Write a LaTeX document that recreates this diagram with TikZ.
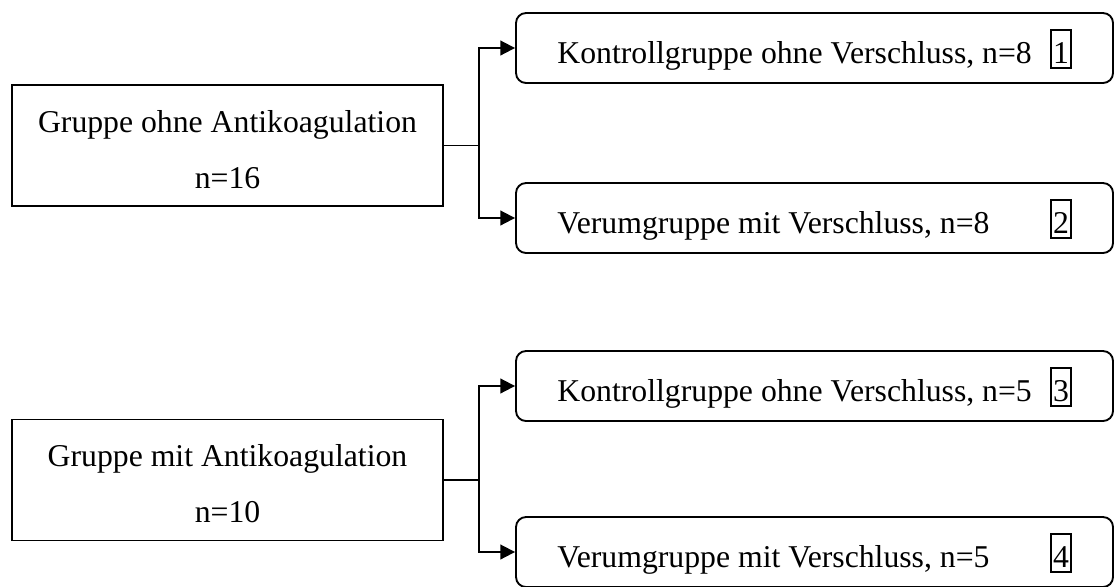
\documentclass[tikz,border=0pt]{standalone}
\usepackage{fontspec}
\setmainfont{Liberation Serif}
\usetikzlibrary{arrows.meta}

\newcommand{\numbox}[1]{{\setlength{\fboxsep}{0pt}\setlength{\fboxrule}{1.2pt}\fbox{\rule[-3pt]{0pt}{27pt}\hspace{0.8pt}#1\hspace{0.8pt}}}}

\begin{document}
\begin{tikzpicture}[x=0.75pt, y=-0.75pt,
    groupbox/.style={draw, line width=1.4pt, inner sep=0pt, minimum width=323.25pt,
        text height=77.25pt, text depth=13.5pt, align=center, font=\fontsize{23.8}{42}\selectfont},
    subbox/.style={draw, line width=1.4pt, rounded corners=7.5pt, inner sep=0pt, minimum width=447.75pt,
        text height=37.5pt, text depth=15pt, font=\fontsize{23.8}{28}\selectfont},
    split/.style={line width=1.4pt},
    splitarrow/.style={line width=1.4pt, -{Triangle[length=11pt, width=11pt]}}]
    \useasboundingbox (0,0) rectangle (1114,586);

    % gruppen links
    \node[groupbox] (grpOhne) at (227.5,145.5) {Gruppe ohne Antikoagulation\\n=16};
    \node[groupbox] (grpMit) at (227.5,480) {Gruppe mit Antikoagulation\\n=10};

    % untergruppen rechts
    \node[subbox] (kontrolle1) at (814.5,48) {\makebox[369.75pt][l]{Kontrollgruppe ohne Verschluss, n=8}\numbox{1}};
    \node[subbox] (verum1) at (814.5,218) {\makebox[369.75pt][l]{Verumgruppe mit Verschluss, n=8}\numbox{2}};
    \node[subbox] (kontrolle2) at (814.5,386) {\makebox[369.75pt][l]{Kontrollgruppe ohne Verschluss, n=5}\numbox{3}};
    \node[subbox] (verum2) at (814.5,552) {\makebox[369.75pt][l]{Verumgruppe mit Verschluss, n=5}\numbox{4}};

    \coordinate (splitOhne) at (479,145.5);
    \coordinate (splitMit) at (479,480);

    \foreach \g/\k/\v in {Ohne/kontrolle1/verum1, Mit/kontrolle2/verum2}{
        \draw[split] (grp\g.east) -- (split\g);
        \draw[splitarrow] (split\g) |- (\k.west);
        \draw[splitarrow] (split\g) |- (\v.west);
    }
\end{tikzpicture}
\end{document}
